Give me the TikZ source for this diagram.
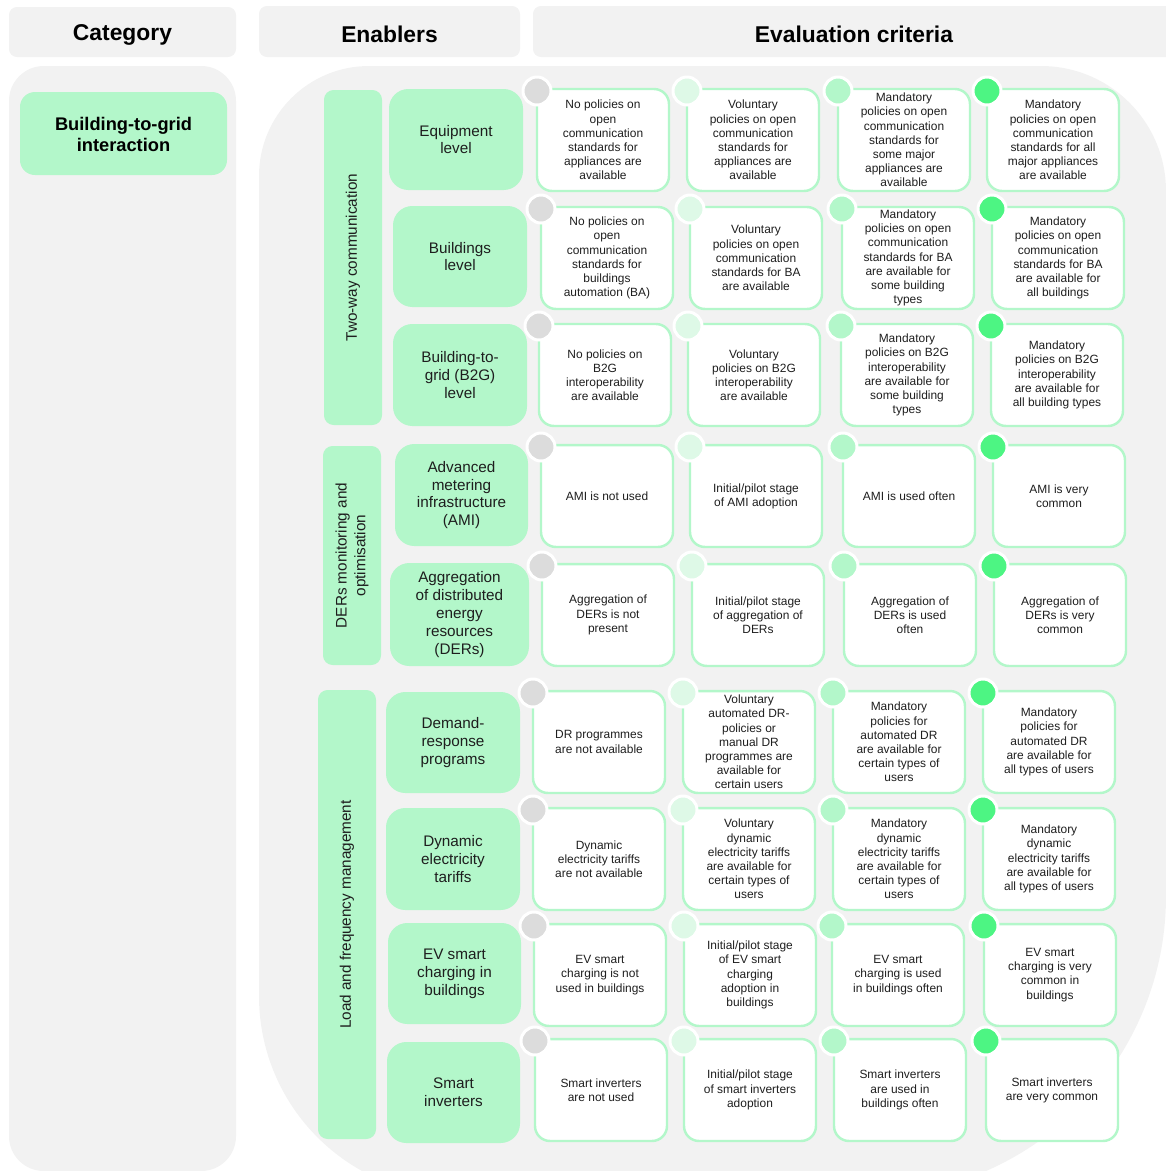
\documentclass[tikz,border=0pt]{standalone}
\usepackage{fontspec}
\setmainfont{Liberation Sans}
\usetikzlibrary{fit}

\definecolor{panelgray}{HTML}{F2F2F2}
\definecolor{mint}{HTML}{B3F7CA}
\definecolor{lvlnone}{HTML}{DCDCDC}
\definecolor{lvlvol}{HTML}{DEF9E7}
\definecolor{lvlsome}{HTML}{B3F7CA}
\definecolor{lvlfull}{HTML}{4DF583}
\definecolor{ink}{HTML}{1E1E1E}

\tikzset{
  hdr/.style={fill=panelgray, rounded corners=4.5pt, inner sep=0pt},
  hdrtext/.style={inner sep=0pt, yshift=-1.8pt, font=\fontsize{13}{15}\selectfont\bfseries},
  catbox/.style={fill=mint, rounded corners=8.5pt, inner sep=0pt},
  cattext/.style={inner sep=0pt, yshift=-0.6pt, align=center, font=\fontsize{10.4}{11.9}\selectfont\bfseries},
  grpbox/.style={fill=mint, rounded corners=5.5pt, inner sep=0pt},
  grplabel/.style={rotate=90, align=center, text=ink, inner sep=0pt,
    font=\fontsize{8.7}{10.6}\selectfont},
  enab/.style={fill=mint, rounded corners=11pt, inner sep=0pt},
  enabtext/.style={inner sep=0pt, align=center, text=ink, font=\fontsize{8.7}{10.2}\selectfont},
  crit/.style={fill=white, draw=mint, line width=1.4pt, rounded corners=8.5pt,
    inner sep=0pt, minimum width=2.64cm, minimum height=2.04cm,
    align=center, text=ink, font=\fontsize{6.8}{8.05}\selectfont},
  dot/.style={circle, draw=white, line width=1.7pt, minimum size=0.56cm, inner sep=0pt},
}

% one criterion cell: name, left x, top y, level colour, text
\newcommand\critcell[5]{%
  \node[crit] (#1) at (#2+66,#3+51) {#5};
  \node[dot, fill=#4] (#1dot) at (#2,#3+2) {};
}
% one enabler box: name, x0, y0, x1, y1, text
\newcommand\enabler[6]{%
  \node[enab, fit={(#2,#3) (#4,#5)}] (#1) {};
  \node[enabtext] (#1t) at (#1.center) {#6};
}

\begin{document}
\begin{tikzpicture}[x=0.02cm, y=-0.02cm]
\useasboundingbox (0,0) rectangle (1166,1171);
\clip (0,0) rectangle (1166,1171);

% column headers
\node[hdr, fit={(9,7) (236,57)}] (hcat) {};
\node[hdrtext] (hcatt) at (hcat.center) {Category};
\node[hdr, fit={(259,6) (520,57)}] (hena) {};
\node[hdrtext] (henat) at (hena.center) {Enablers};
\node[hdr, fit={(533,6) (1175,57)}] (hcrit) {};
\node[hdrtext] (hcritt) at (hcrit.center) {Evaluation criteria};

% background panels
\fill[panelgray, rounded corners=19.8pt] (9,66) rectangle (236,1171);
\fill[panelgray] (259,996) -- (259,176)
  arc[start angle=180, end angle=270, radius=110] -- (1041,66)
  arc[start angle=270, end angle=360, radius=125] -- (1166,896)
  arc[start angle=0, end angle=90, radius=300] -- (459,1196)
  arc[start angle=90, end angle=180, radius=200] -- cycle;

% category
\node[catbox, fit={(20,92) (227,175)}] (cat) {};
\node[cattext] (catt) at (cat.center) {Building-to-grid\\interaction};

% enabler groups
\node[grpbox, fit={(324,90) (382,425)}] (g1) {};
\node[grplabel] (g1t) at (g1.center) {Two-way communication};
\node[grpbox, fit={(323,446) (381,665)}] (g2) {};
\node[grplabel] (g2t) at (g2.center) {DERs monitoring and\\optimisation};
\node[grpbox, fit={(318,690) (376,1139)}] (g3) {};
\node[grplabel] (g3t) at (g3.center) {Load and frequency management};

% enablers
\enabler{e1}{389}{89}{523}{190}{Equipment\\level}
\enabler{e2}{393}{206}{527}{307}{Buildings\\level}
\enabler{e3}{393}{324}{527}{426}{Building-to-\\grid (B2G)\\level}
\enabler{e4}{395}{444}{528}{546}{Advanced\\metering\\infrastructure\\(AMI)}
\enabler{e5}{390}{563}{529}{666}{Aggregation\\of distributed\\energy\\resources\\(DERs)}
\enabler{e6}{386}{692}{520}{793}{Demand-\\response\\programs}
\enabler{e7}{386}{808}{520}{910}{Dynamic\\electricity\\tariffs}
\enabler{e8}{388}{923}{521}{1024}{EV smart\\charging in\\buildings}
\enabler{e9}{387}{1042}{520}{1143}{Smart\\inverters}

% equipment level
\critcell{c11}{537}{89}{lvlnone}{No policies on\\open\\communication\\standards for\\appliances are\\available}
\critcell{c12}{687}{89}{lvlvol}{Voluntary\\policies on open\\communication\\standards for\\appliances are\\available}
\critcell{c13}{838}{89}{lvlsome}{Mandatory\\policies on open\\communication\\standards for\\some major\\appliances are\\available}
\critcell{c14}{987}{89}{lvlfull}{Mandatory\\policies on open\\communication\\standards for all\\major appliances\\are available}

% buildings level
\critcell{c21}{541}{207}{lvlnone}{No policies on\\open\\communication\\standards for\\buildings\\automation (BA)}
\critcell{c22}{690}{207}{lvlvol}{Voluntary\\policies on open\\communication\\standards for BA\\are available}
\critcell{c23}{842}{207}{lvlsome}{Mandatory\\policies on open\\communication\\standards for BA\\are available for\\some building\\types}
\critcell{c24}{992}{207}{lvlfull}{Mandatory\\policies on open\\communication\\standards for BA\\are available for\\all buildings}

% building-to-grid level
\critcell{c31}{539}{324}{lvlnone}{No policies on\\B2G\\interoperability\\are available}
\critcell{c32}{688}{324}{lvlvol}{Voluntary\\policies on B2G\\interoperability\\are available}
\critcell{c33}{841}{324}{lvlsome}{Mandatory\\policies on B2G\\interoperability\\are available for\\some building\\types}
\critcell{c34}{991}{324}{lvlfull}{Mandatory\\policies on B2G\\interoperability\\are available for\\all building types}

% advanced metering infrastructure
\critcell{c41}{541}{445}{lvlnone}{AMI is not used}
\critcell{c42}{690}{445}{lvlvol}{Initial/pilot stage\\of AMI adoption}
\critcell{c43}{843}{445}{lvlsome}{AMI is used often}
\critcell{c44}{993}{445}{lvlfull}{AMI is very\\common}

% aggregation of DERs
\critcell{c51}{542}{564}{lvlnone}{Aggregation of\\DERs is not\\present}
\critcell{c52}{692}{564}{lvlvol}{Initial/pilot stage\\of aggregation of\\DERs}
\critcell{c53}{844}{564}{lvlsome}{Aggregation of\\DERs is used\\often}
\critcell{c54}{994}{564}{lvlfull}{Aggregation of\\DERs is very\\common}

% demand response
\critcell{c61}{533}{691}{lvlnone}{DR programmes\\are not available}
\critcell{c62}{683}{691}{lvlvol}{Voluntary\\automated DR-\\policies or\\manual DR\\programmes are\\available for\\certain users}
\critcell{c63}{833}{691}{lvlsome}{Mandatory\\policies for\\automated DR\\are available for\\certain types of\\users}
\critcell{c64}{983}{691}{lvlfull}{Mandatory\\policies for\\automated DR\\are available for\\all types of users}

% dynamic tariffs
\critcell{c71}{533}{808}{lvlnone}{Dynamic\\electricity tariffs\\are not available}
\critcell{c72}{683}{808}{lvlvol}{Voluntary\\dynamic\\electricity tariffs\\are available for\\certain types of\\users}
\critcell{c73}{833}{808}{lvlsome}{Mandatory\\dynamic\\electricity tariffs\\are available for\\certain types of\\users}
\critcell{c74}{983}{808}{lvlfull}{Mandatory\\dynamic\\electricity tariffs\\are available for\\all types of users}

% EV smart charging
\critcell{c81}{534}{924}{lvlnone}{EV smart\\charging is not\\used in buildings}
\critcell{c82}{684}{924}{lvlvol}{Initial/pilot stage\\of EV smart\\charging\\adoption in\\buildings}
\critcell{c83}{832}{924}{lvlsome}{EV smart\\charging is used\\in buildings often}
\critcell{c84}{984}{924}{lvlfull}{EV smart\\charging is very\\common in\\buildings}

% smart inverters
\critcell{c91}{535}{1039}{lvlnone}{Smart inverters\\are not used}
\critcell{c92}{684}{1039}{lvlvol}{Initial/pilot stage\\of smart inverters\\adoption}
\critcell{c93}{834}{1039}{lvlsome}{Smart inverters\\are used in\\buildings often}
\critcell{c94}{986}{1039}{lvlfull}{Smart inverters\\are very common}

\end{tikzpicture}
\end{document}
